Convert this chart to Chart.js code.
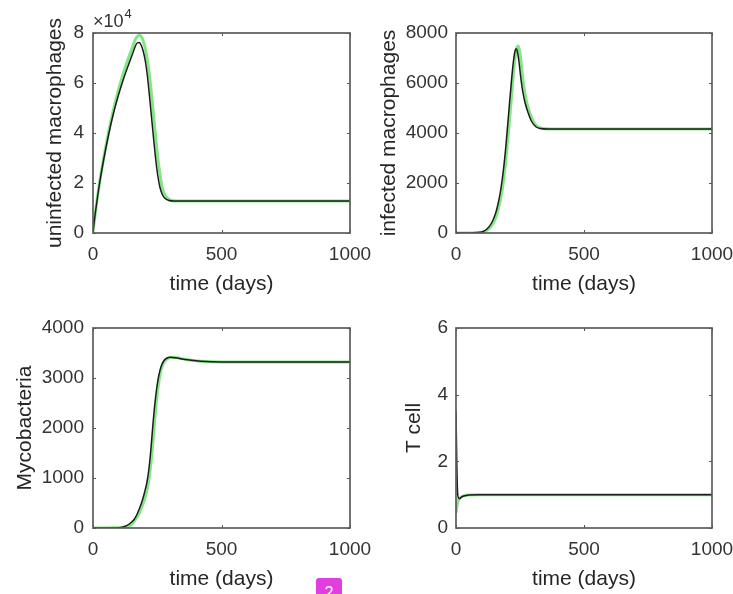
<!DOCTYPE html>
<html>
<head>
<meta charset="utf-8">
<script src="https://cdn.jsdelivr.net/npm/chart.js@4.4.1/dist/chart.umd.min.js"></script>
<style>
    html, body {
        margin: 0;
        padding: 0;
        background: #fff;
        overflow: hidden;
    }
    #page {
        position: relative;
        width: 733px;
        height: 594px;
        overflow: hidden;
    }
    canvas {
        position: absolute;
    }
    #page-badge {
        position: absolute;
        left: 316px;
        top: 578px;
        width: 26px;
        height: 24px;
        background: #e03ee0;
        border-radius: 3px;
        color: #fff;
        font: 16px "Liberation Sans", Arial, sans-serif;
        text-align: center;
        line-height: 30px;
    }
</style>
</head>
<body>
<div id="page">
    <canvas id="c-uninf" width="380" height="297" style="left:0;top:0"></canvas>
    <canvas id="c-inf" width="367" height="297" style="left:366px;top:0"></canvas>
    <canvas id="c-myco" width="380" height="297" style="left:0;top:297px"></canvas>
    <canvas id="c-tcell" width="367" height="297" style="left:366px;top:297px"></canvas>
    <div id="page-badge">2</div>
</div>
<script>
// uninfected macrophages (axis shows x10^4)
const uninfDaysBlack = [0, 3, 8, 15, 25, 40, 60, 80, 100, 120, 140, 155, 165, 172, 180, 188, 196, 204, 212, 220, 228, 236, 244, 252, 260, 270, 282, 296, 315, 400, 1000];
const uninfBlack = [0, 3000, 7200, 12500, 19500, 28500, 39000, 48000, 55500, 62000, 67800, 72000, 74800, 76000, 76200, 75000, 72500, 68500, 62500, 54500, 46000, 37500, 29500, 23000, 18500, 15300, 13700, 13000, 12800, 12800, 12800];
const uninfDaysGreen = [0, 3, 8, 15, 25, 40, 60, 80, 100, 120, 140, 155, 165, 174, 182, 190, 198, 206, 214, 222, 230, 238, 246, 254, 262, 270, 280, 292, 306, 325, 400, 1000];
const uninfGreen = [0, 3000, 7200, 12600, 19800, 29000, 40000, 49500, 57500, 64500, 70500, 74800, 77500, 78800, 79100, 78200, 76000, 72500, 67500, 61000, 53000, 44500, 36000, 28500, 22500, 18000, 15200, 13700, 13000, 12800, 12800, 12800];

// infected macrophages
const infDaysBlack = [0, 60, 100, 120, 140, 155, 165, 175, 185, 195, 205, 215, 223, 230, 235, 240, 246, 252, 260, 270, 282, 296, 312, 330, 360, 1000];
const infBlack = [0, 5, 40, 150, 420, 800, 1200, 1750, 2500, 3500, 4700, 5900, 6750, 7250, 7370, 7250, 6850, 6300, 5700, 5200, 4800, 4450, 4250, 4180, 4160, 4160];
const infDaysGreen = [0, 60, 100, 120, 140, 155, 165, 175, 185, 195, 205, 215, 224, 232, 238, 243, 248, 254, 260, 268, 278, 290, 304, 320, 340, 370, 1000];
const infGreen = [0, 3, 25, 100, 300, 600, 950, 1400, 2050, 2950, 4050, 5250, 6350, 7100, 7420, 7480, 7300, 6850, 6250, 5650, 5150, 4750, 4420, 4240, 4180, 4160, 4160];

// mycobacteria
const mycoDaysBlack = [0, 100, 120, 140, 160, 170, 180, 190, 200, 210, 218, 225, 232, 240, 248, 256, 265, 275, 288, 300, 320, 360, 420, 500, 1000];
const mycoBlack = [0, 5, 25, 75, 170, 260, 380, 520, 700, 920, 1200, 1560, 2000, 2450, 2800, 3050, 3230, 3340, 3400, 3415, 3405, 3370, 3335, 3320, 3320];
const mycoDaysGreen = [0, 100, 125, 150, 165, 180, 190, 200, 210, 218, 226, 233, 240, 248, 256, 264, 273, 283, 295, 308, 328, 360, 420, 500, 1000];
const mycoGreen = [0, 3, 20, 70, 170, 300, 420, 570, 760, 990, 1330, 1720, 2150, 2600, 2920, 3140, 3280, 3360, 3400, 3415, 3405, 3370, 3335, 3320, 3320];

// T cells
const tcellDaysBlack = [0, 3, 6, 10, 14, 20, 30, 50, 90, 1000];
const tcellBlack = [3.5, 2.0, 1.1, 0.9, 0.88, 0.92, 0.96, 0.99, 1.0, 1.0];
const tcellDaysGreen = [0, 3, 6, 10, 15, 25, 50, 90, 1000];
const tcellGreen = [0.45, 0.62, 0.75, 0.85, 0.9, 0.95, 0.99, 1.0, 1.0];

const timeTicks = [0, 500, 1000];
const uninfTicks = [0, 20000, 40000, 60000, 80000];
const infTicks = [0, 2000, 4000, 6000, 8000];
const mycoTicks = [0, 1000, 2000, 3000, 4000];
const tcellTicks = [0, 2, 4, 6];

const FONT = '"Liberation Sans", Arial, Helvetica, sans-serif';
Chart.defaults.font.family = FONT;
Chart.defaults.color = '#333';

function points(days, values)
{
    return days.map(
        (d, i) => ({ x: d, y: values[i] })
    );
}

// MATLAB style box with inward ticks on all four sides
const matlabBox = {
    id: 'matlabBox',
    afterDatasetsDraw(chart, args, opts) {
        const { ctx, chartArea: a } = chart;
        const x = chart.scales.x;
        const y = chart.scales.y;
        ctx.save();
        ctx.strokeStyle = '#555';
        ctx.lineWidth = 1;
        ctx.beginPath();
        x.ticks.forEach(t => {
            const px = Math.round(x.getPixelForValue(t.value)) + 0.5;
            ctx.moveTo(px, a.bottom);
            ctx.lineTo(px, a.bottom - 3);
            ctx.moveTo(px, a.top);
            ctx.lineTo(px, a.top + 3);
        });
        y.ticks.forEach(t => {
            const py = Math.round(y.getPixelForValue(t.value)) + 0.5;
            ctx.moveTo(a.left, py);
            ctx.lineTo(a.left + 3, py);
            ctx.moveTo(a.right, py);
            ctx.lineTo(a.right - 3, py);
        });
        ctx.stroke();
        ctx.lineWidth = 1.7;
        ctx.strokeStyle = '#5c5c5c';
        ctx.strokeRect(a.left, a.top, a.right - a.left, a.bottom - a.top);
        if (opts.exponent) {
            ctx.fillStyle = '#333';
            ctx.textBaseline = 'alphabetic';
            ctx.font = '18px ' + FONT;
            ctx.fillText('\u00d710', a.left, a.top - 6);
            const w = ctx.measureText('\u00d710').width;
            ctx.font = '13px ' + FONT;
            ctx.fillText(opts.exponent, a.left + w + 1, a.top - 15);
        }
        ctx.restore();
    }
};

function makePanel(id, cfg)
{
    return new Chart(
        document.getElementById(id),
        {
            type: 'line',
            data: {
                datasets: [
                    {
                        data: points(cfg.daysBlack, cfg.black),
                        borderColor: '#1c1c1c',
                        borderWidth: 1.5,
                        pointRadius: 0,
                        cubicInterpolationMode: 'monotone'
                    },
                    {
                        data: points(cfg.daysGreen, cfg.green),
                        borderColor: 'rgba(110, 225, 110, 0.85)',
                        borderWidth: 3,
                        pointRadius: 0,
                        cubicInterpolationMode: 'monotone'
                    }
                ]
            },
            options: {
                responsive: false,
                animation: false,
                events: [],
                layout: {
                    padding: {
                        left: 0,
                        top: cfg.top,
                        right: cfg.right,
                        bottom: 0
                    }
                },
                plugins: {
                    legend: { display: false },
                    tooltip: { enabled: false },
                    matlabBox: { exponent: cfg.exponent || null }
                },
                scales: {
                    x: {
                        type: 'linear',
                        min: 0,
                        max: 1000,
                        afterBuildTicks: s => {
                            s.ticks = timeTicks.map(v => ({ value: v }));
                        },
                        afterFit: s => {
                            s.height = cfg.xHeight;
                            s.paddingLeft = 0;
                            s.paddingRight = 0;
                        },
                        grid: { display: false, drawTicks: false },
                        border: { display: false },
                        ticks: {
                            autoSkip: false,
                            maxRotation: 0,
                            padding: 10,
                            color: '#333',
                            font: { size: 19 },
                            callback: v => String(v)
                        },
                        title: {
                            display: true,
                            text: 'time (days)',
                            color: '#262626',
                            font: { size: 21 },
                            padding: { top: 0, bottom: cfg.xTitlePad }
                        }
                    },
                    y: {
                        type: 'linear',
                        min: cfg.yTicks[0],
                        max: cfg.yTicks[cfg.yTicks.length - 1],
                        afterBuildTicks: s => {
                            s.ticks = cfg.yTicks.map(v => ({ value: v }));
                        },
                        afterFit: s => {
                            s.width = cfg.yWidth;
                            s.paddingTop = 0;
                            s.paddingBottom = 0;
                        },
                        grid: { display: false, drawTicks: false },
                        border: { display: false },
                        ticks: {
                            autoSkip: false,
                            padding: cfg.yTickPad,
                            color: '#333',
                            font: { size: 19 },
                            callback: v => String(cfg.scale ? v / cfg.scale : v)
                        },
                        title: {
                            display: true,
                            text: cfg.label,
                            color: '#262626',
                            font: { size: 21 },
                            padding: { top: cfg.yTitlePad, bottom: 0 }
                        }
                    }
                }
            },
            plugins: [matlabBox]
        }
    );
}

makePanel('c-uninf', {
    daysBlack: uninfDaysBlack, black: uninfBlack,
    daysGreen: uninfDaysGreen, green: uninfGreen,
    yTicks: uninfTicks, scale: 10000, exponent: '4',
    label: 'uninfected macrophages',
    top: 33, right: 30, yWidth: 93, xHeight: 64,
    yTitlePad: 43, yTickPad: 9, xTitlePad: 0
});

makePanel('c-inf', {
    daysBlack: infDaysBlack, black: infBlack,
    daysGreen: infDaysGreen, green: infGreen,
    yTicks: infTicks,
    label: 'infected macrophages',
    top: 33, right: 21, yWidth: 90, xHeight: 64,
    yTitlePad: 11, yTickPad: 8, xTitlePad: 0
});

makePanel('c-myco', {
    daysBlack: mycoDaysBlack, black: mycoBlack,
    daysGreen: mycoDaysGreen, green: mycoGreen,
    yTicks: mycoTicks,
    label: 'Mycobacteria',
    top: 31, right: 30, yWidth: 93, xHeight: 66,
    yTitlePad: 13, yTickPad: 9, xTitlePad: 2
});

makePanel('c-tcell', {
    daysBlack: tcellDaysBlack, black: tcellBlack,
    daysGreen: tcellDaysGreen, green: tcellGreen,
    yTicks: tcellTicks,
    label: 'T cell',
    top: 31, right: 21, yWidth: 90, xHeight: 66,
    yTitlePad: 36, yTickPad: 8, xTitlePad: 2
});
</script>
</body>
</html>
